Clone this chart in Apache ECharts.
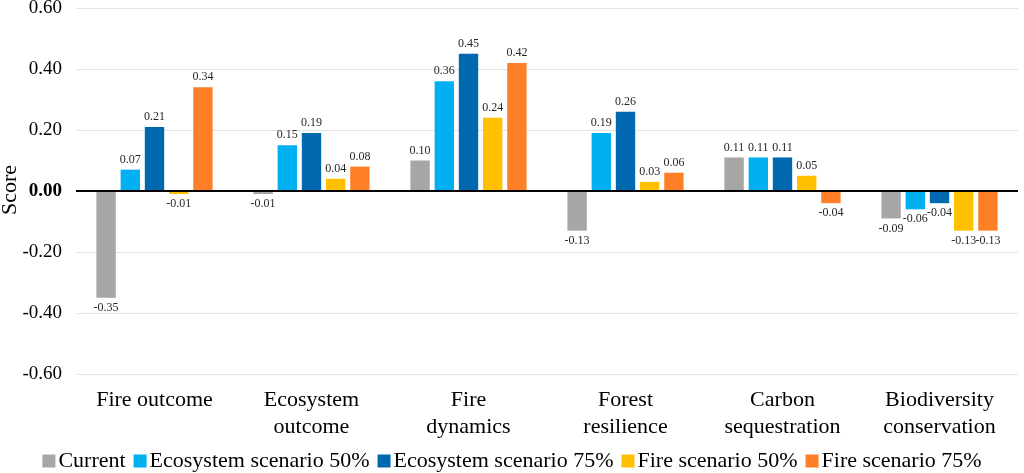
<!DOCTYPE html>
<html>
<head>
<meta charset="utf-8">
<script src="https://cdn.jsdelivr.net/npm/echarts@6/dist/echarts.min.js"></script>
<style>html,body{margin:0;padding:0;background:#fff}#c{width:1024px;height:473px}</style>
</head>
<body>
<div id="c"></div>
<script>
var categories = ['Fire outcome', 'Ecosystem\noutcome', 'Fire\ndynamics', 'Forest\nresilience', 'Carbon\nsequestration', 'Biodiversity\nconservation'];
var seriesNames = ['Current', 'Ecosystem scenario 50%', 'Ecosystem scenario 75%', 'Fire scenario 50%', 'Fire scenario 75%'];
var current = [-0.35, -0.01, 0.10, -0.13, 0.11, -0.09];
var eco50 = [0.07, 0.15, 0.36, 0.19, 0.11, -0.06];
var eco75 = [0.21, 0.19, 0.45, 0.26, 0.11, -0.04];
var fire50 = [-0.01, 0.04, 0.24, 0.03, 0.05, -0.13];
var fire75 = [0.34, 0.08, 0.42, 0.06, -0.04, -0.13];
var yTicks = [-0.6, -0.4, -0.2, 0, 0.2, 0.4, 0.6];
var yAxisTitle = 'Score';

var colors = ['#A6A6A6', '#00B0F0', '#0068AE', '#FFC000', '#FF7F27'];
var allData = [current, eco50, eco75, fire50, fire75];
var font = 'Liberation Serif';

var series = allData.map(function (arr, i) {
  var s = {
    name: seriesNames[i],
    type: 'bar',
    barGap: '25%',
    barCategoryGap: '26%',
    itemStyle: { color: colors[i] },
    data: arr.map(function (v) {
      return { value: v, label: { position: v < 0 ? 'bottom' : 'top' } };
    }),
    label: {
      show: true,
      fontFamily: font,
      fontSize: 12,
      color: '#262626',
      distance: 4,
      formatter: function (p) { return p.value.toFixed(2); }
    }
  };
  if (i === 0) {
    s.markLine = {
      silent: true,
      symbol: 'none',
      label: { show: false },
      lineStyle: { color: '#000', width: 2, type: 'solid' },
      data: [{ yAxis: 0 }]
    };
  }
  return s;
});

var chart = echarts.init(document.getElementById('c'));
chart.setOption({
  animation: false,
  color: colors,
  grid: { left: 76, right: 6, top: 8, bottom: 99, containLabel: false, outerBoundsMode: 'none' },
  graphic: [{
    type: 'text',
    x: 10,
    y: 190,
    rotation: Math.PI / 2,
    style: { text: yAxisTitle, fontFamily: font, fontSize: 22, fill: '#000', align: 'center', verticalAlign: 'middle' }
  }],
  legend: {
    top: 445,
    left: 'center',
    itemWidth: 13,
    itemHeight: 13,
    itemGap: 8,
    icon: 'rect',
    textStyle: { fontFamily: font, fontSize: 22, color: '#000', padding: [0, 0, 0, -2] },
    data: seriesNames
  },
  xAxis: {
    type: 'category',
    data: categories,
    axisLine: { show: false, onZero: false },
    axisTick: { show: false },
    axisLabel: { fontFamily: font, fontSize: 22, color: '#000', lineHeight: 27, margin: 13, interval: 0 }
  },
  yAxis: {
    type: 'value',
    min: yTicks[0],
    max: yTicks[yTicks.length - 1],
    interval: 0.2,
    axisLine: { show: false },
    axisTick: { show: false },
    splitLine: { lineStyle: { color: '#E3E3E3', width: 1 } },
    axisLabel: {
      fontFamily: font,
      fontSize: 19,
      color: '#000',
      margin: 14,
      formatter: function (v) {
        var t = (Math.abs(v) < 1e-9 ? 0 : v).toFixed(2);
        return Math.abs(v) < 1e-9 ? '{b|' + t + '}' : t;
      },
      rich: { b: { fontFamily: font, fontSize: 19, fontWeight: 'bold', color: '#000' } }
    }
  },
  series: series
});
</script>
</body>
</html>
